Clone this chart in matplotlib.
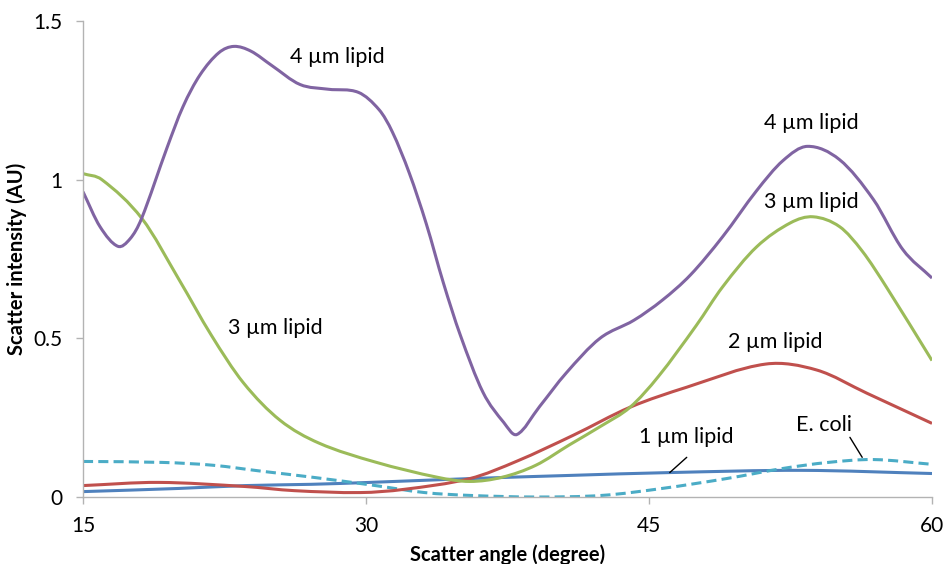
import numpy as np
import matplotlib
matplotlib.use("Agg")
import matplotlib.pyplot as plt
from matplotlib.path import Path
from matplotlib.patches import PathPatch

plt.rcParams['font.family'] = ['Lato', 'DejaVu Sans']

# ---- data ----
x_4um = [15, 15.9, 16.85, 17.5, 18.1, 19.45, 20.3, 21.2, 22.2, 23.0, 23.9, 25.0, 26.5, 28.0,
         29.6, 30.7, 31.4, 32.3, 33.2, 34.1, 35.0, 36.2, 37.3, 38.0, 39.2, 40.6, 42.4,
         44.2, 45.7, 47.2, 48.9, 50.7, 52.1, 53.4, 55.1, 56.9, 58.45, 60]
y_4um = [0.962, 0.852, 0.79, 0.814, 0.877, 1.1, 1.23, 1.33, 1.4, 1.42, 1.405, 1.36, 1.3, 1.285,
         1.275, 1.22, 1.15, 1.02, 0.86, 0.675, 0.51, 0.33, 0.235, 0.197, 0.285, 0.39, 0.5,
         0.557, 0.62, 0.70, 0.82, 0.965, 1.06, 1.105, 1.063, 0.937, 0.78, 0.69]

x_3um = [15, 16.0, 18.13, 20.1, 21.8, 23.5, 25.44, 27.5, 30.5, 33.8, 35.5, 37.2, 39.0,
         40.8, 42.5, 44.0, 45.5, 47.5, 48.9, 50.7, 52.5, 53.7, 55.1, 56.3, 57.6, 60]
y_3um = [1.019, 1.0, 0.877, 0.684, 0.51, 0.36, 0.242, 0.17, 0.11, 0.062, 0.049, 0.062, 0.1,
         0.165, 0.225, 0.283, 0.38, 0.54, 0.662, 0.788, 0.864, 0.883, 0.852, 0.775, 0.66, 0.43]

x_2um = [15, 19.0, 23.6, 26.2, 29.7, 32.0, 35.5, 38.0, 41.0, 44.0, 47.0, 51.2, 53.9, 56.55, 60]
y_2um = [0.036, 0.046, 0.033, 0.02, 0.014, 0.024, 0.058, 0.113, 0.195, 0.283, 0.346, 0.419,
         0.40, 0.327, 0.232]

x_1um = [15, 20.1, 23.6, 27.1, 30.2, 35.5, 40.8, 46.1, 53.1, 60]
y_1um = [0.017, 0.027, 0.036, 0.04, 0.046, 0.058, 0.068, 0.077, 0.084, 0.074]

x_ecoli = [15, 19.2, 21.9, 24.5, 27.2, 30.5, 33.1, 35.5, 39.0, 42.5, 45.7, 49.1,
           52.1, 54.5, 56.9, 60]
y_ecoli = [0.112, 0.109, 0.1, 0.081, 0.062, 0.036, 0.014, 0.005, 0.0, 0.005, 0.027, 0.058,
           0.09, 0.109, 0.118, 0.103]

x_ticks = [15, 30, 45, 60]
y_ticks = [0, 0.5, 1, 1.5]
y_ticklabels = ["0", "0.5", "1", "1.5"]

labels = [
    ("4 µm lipid", 28.5, 1.385),
    ("3 µm lipid", 25.2, 0.532),
    ("4 µm lipid", 53.6, 1.18),
    ("3 µm lipid", 53.6, 0.93),
    ("2 µm lipid", 51.7, 0.488),
    ("1 µm lipid", 46.95, 0.188),
    ("E. coli", 54.3, 0.226),
]
leaders = [((47.0, 0.125), (46.1, 0.077)), ((55.65, 0.188), (56.3, 0.125))]

C_PURPLE = "#8064A2"
C_GREEN = "#9BBB59"
C_RED = "#C0504D"
C_BLUE = "#4F81BD"
C_CYAN = "#4BACC6"


def smooth_path(xs, ys):
    xs = np.asarray(xs, float)
    ys = np.asarray(ys, float)
    n = len(xs)
    m = np.zeros(n)
    for i in range(n):
        if i == 0:
            m[i] = (ys[1] - ys[0]) / (xs[1] - xs[0])
        elif i == n - 1:
            m[i] = (ys[-1] - ys[-2]) / (xs[-1] - xs[-2])
        else:
            m[i] = (ys[i + 1] - ys[i - 1]) / (xs[i + 1] - xs[i - 1])
    verts = [(xs[0], ys[0])]
    codes = [Path.MOVETO]
    for i in range(n - 1):
        h = xs[i + 1] - xs[i]
        verts += [(xs[i] + h / 3, ys[i] + m[i] * h / 3),
                  (xs[i + 1] - h / 3, ys[i + 1] - m[i + 1] * h / 3),
                  (xs[i + 1], ys[i + 1])]
        codes += [Path.CURVE4] * 3
    return Path(verts, codes)


fig = plt.figure(figsize=(9.43, 5.64), dpi=100)
ax = fig.add_axes([83 / 943, 1 - 497 / 564, (932 - 83) / 943, (497 - 21) / 564])

series = [
    (x_1um, y_1um, C_BLUE, '-'),
    (x_ecoli, y_ecoli, C_CYAN, (0, (3.3, 1.7))),
    (x_2um, y_2um, C_RED, '-'),
    (x_3um, y_3um, C_GREEN, '-'),
    (x_4um, y_4um, C_PURPLE, '-'),
]
for xs, ys, col, ls in series:
    p = PathPatch(smooth_path(xs, ys), facecolor='none', edgecolor=col,
                  lw=2.2, linestyle=ls, capstyle='butt', transform=ax.transData)
    ax.add_patch(p)

ax.set_xlim(15, 60)
ax.set_ylim(0, 1.5)
ax.set_xticks(x_ticks)
ax.set_yticks(y_ticks)
ax.set_yticklabels(y_ticklabels)

for s in ['top', 'right']:
    ax.spines[s].set_visible(False)
for s in ['left', 'bottom']:
    ax.spines[s].set_color('#B3B3B3')
    ax.spines[s].set_linewidth(1.0)
ax.tick_params(axis='both', colors='#B3B3B3', labelcolor='black', labelsize=15,
               length=5, width=1.0, direction='out')
ax.tick_params(axis='y', pad=10)
ax.tick_params(axis='x', pad=9)

ax.set_xlabel("Scatter angle (degree)", fontsize=14.5, fontweight='bold', labelpad=6)
ax.set_ylabel("Scatter intensity (AU)", fontsize=14.5, fontweight='bold', labelpad=4)

for txt, x, y in labels:
    ax.text(x, y, txt, fontsize=15.5, ha='center', va='center', color='black')
for (x0, y0), (x1, y1) in leaders:
    ax.annotate("", xy=(x1, y1), xytext=(x0, y0),
                arrowprops=dict(arrowstyle='-', color='black', lw=1.0,
                                shrinkA=0, shrinkB=0))

fig.savefig("out.png", dpi=100)
